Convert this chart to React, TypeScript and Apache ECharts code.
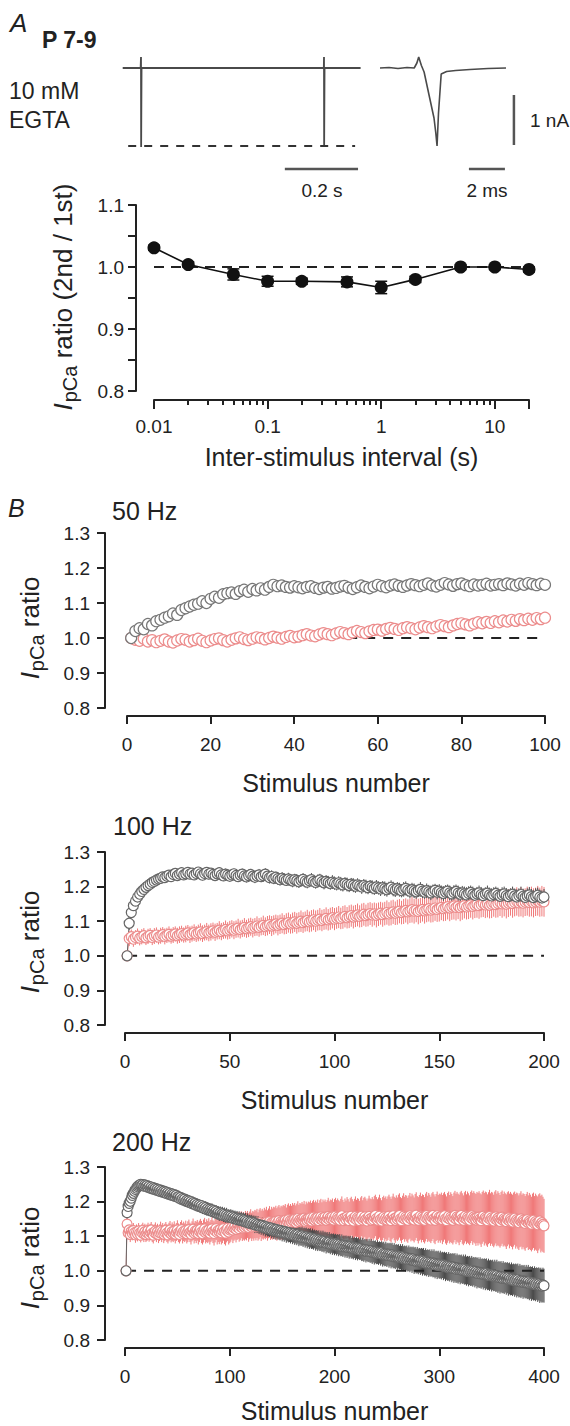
import React, { useEffect, useRef } from "react";
import * as echarts from "echarts";

const FONT = '"Liberation Sans", Arial, Helvetica, sans-serif';
const INK = "#222";

// ---------- Panel A: example traces ----------
// Paired-pulse trace (time in s, current in nA)
const trace1T = [-0.05, -0.001, 0, 0.0004, 0.0015, 0.4995, 0.5, 0.5004, 0.5015, 0.6];
const trace1I = [0, 0, 0.22, -1.58, 0, 0, 0.22, -1.58, 0, 0];
const firstPeakI = -1.56;
// Expanded first response (time in ms, current in nA)
const trace2T = [0, 0.5, 1.0, 1.5, 1.9, 2.05, 2.15, 2.3, 2.45, 2.7, 3.0, 3.1, 3.17, 3.25, 3.4, 3.7, 4.2, 5, 6, 7];
const trace2I = [0, 0.01, -0.01, 0.01, 0, 0.1, 0.22, 0.05, -0.08, -0.5, -1.0, -1.3, -1.56, -0.9, -0.12, -0.07, -0.05, -0.03, -0.01, 0];
const scaleTimeS = 0.2; // s
const scaleTimeMs = 2; // ms
const scaleCurrent = 1; // nA

// ---------- Panel A: paired-pulse ratio ----------
const isiS = [0.01, 0.02, 0.05, 0.1, 0.2, 0.5, 1, 2, 5, 10, 20];
const pprRatio = [1.031, 1.004, 0.988, 0.977, 0.977, 0.976, 0.967, 0.98, 1.0, 1.0, 0.996];
const pprSem = [0.004, 0.004, 0.009, 0.008, 0.005, 0.008, 0.01, 0.005, 0.004, 0.004, 0.004];
const isiMajorTicks = [0.01, 0.1, 1, 10, 20];
const isiLabels = [0.01, 0.1, 1, 10];
const isiMinorTicks = [0.02, 0.03, 0.04, 0.05, 0.06, 0.07, 0.08, 0.09, 0.2, 0.3, 0.4, 0.5, 0.6, 0.7, 0.8, 0.9, 2, 3, 4, 5, 6, 7, 8, 9];

// ---------- Panel B: 50 Hz ----------
const gray50 = [
  1.0, 1.02, 1.028, 1.025, 1.04, 1.036, 1.048, 1.052, 1.058, 1.062,
  1.07, 1.066, 1.08, 1.085, 1.09, 1.095, 1.098, 1.105, 1.1, 1.112,
  1.118, 1.115, 1.125, 1.128, 1.13, 1.126, 1.134, 1.138, 1.132, 1.14,
  1.136, 1.142, 1.138, 1.146, 1.152, 1.148, 1.15, 1.146, 1.144, 1.148,
  1.145, 1.142, 1.146, 1.148, 1.143, 1.14, 1.144, 1.146, 1.141, 1.143,
  1.147, 1.149, 1.144, 1.14, 1.145, 1.15, 1.146, 1.142, 1.147, 1.152,
  1.148, 1.145, 1.15, 1.153, 1.149, 1.146, 1.15, 1.154, 1.151, 1.148,
  1.152, 1.156, 1.15, 1.147, 1.152, 1.157, 1.153, 1.149, 1.154, 1.156,
  1.151, 1.148, 1.153, 1.15, 1.152, 1.155, 1.15, 1.152, 1.154, 1.151,
  1.156, 1.153, 1.15, 1.155, 1.152, 1.157, 1.154, 1.151, 1.155, 1.152,
];
const pink50 = [
  1.0, 0.995, 0.992, 0.998, 0.99, 0.994, 0.988, 0.992, 0.996, 0.99,
  0.987, 0.993, 0.997, 0.995, 0.99, 0.994, 0.998, 0.992, 0.988, 0.993,
  0.997, 0.999, 0.994, 0.99, 0.995, 0.999, 1.002, 0.997, 0.994, 0.998,
  1.002, 1.0, 0.996, 1.0, 1.004, 1.001, 0.998, 1.003, 1.006, 1.002,
  1.004, 1.008, 1.011, 1.007, 1.005, 1.01, 1.014, 1.011, 1.008, 1.013,
  1.017, 1.014, 1.011, 1.016, 1.02, 1.017, 1.014, 1.019, 1.023, 1.024,
  1.021, 1.026, 1.029, 1.026, 1.023, 1.028, 1.031, 1.028, 1.025, 1.03,
  1.034, 1.031, 1.028, 1.033, 1.037, 1.034, 1.031, 1.036, 1.04, 1.042,
  1.039, 1.036, 1.041, 1.045, 1.042, 1.046, 1.043, 1.048, 1.045, 1.05,
  1.047, 1.052, 1.049, 1.054, 1.051, 1.055, 1.052, 1.057, 1.054, 1.058,
];

// ---------- Panel B: 100 Hz ----------
const gray100 = [
  1.0, 1.094, 1.125, 1.145, 1.158, 1.17, 1.178, 1.186, 1.192, 1.198,
  1.203, 1.207, 1.212, 1.215, 1.219, 1.222, 1.224, 1.228, 1.226, 1.23,
  1.233, 1.229, 1.235, 1.238, 1.232, 1.236, 1.24, 1.234, 1.237, 1.241,
  1.236, 1.239, 1.234, 1.238, 1.242, 1.237, 1.233, 1.238, 1.241, 1.236,
  1.239, 1.235, 1.232, 1.237, 1.24, 1.234, 1.231, 1.236, 1.233, 1.23,
  1.234, 1.237, 1.232, 1.229, 1.233, 1.236, 1.231, 1.228, 1.232, 1.235,
  1.23, 1.227, 1.231, 1.234, 1.229, 1.232, 1.236, 1.23, 1.226, 1.229,
  1.224, 1.227, 1.223, 1.22, 1.224, 1.221, 1.218, 1.222, 1.219, 1.216,
  1.22, 1.217, 1.214, 1.218, 1.221, 1.216, 1.213, 1.217, 1.22, 1.215,
  1.212, 1.216, 1.219, 1.214, 1.211, 1.215, 1.212, 1.209, 1.213, 1.21,
  1.207, 1.211, 1.208, 1.205, 1.209, 1.206, 1.203, 1.207, 1.204, 1.201,
  1.205, 1.202, 1.199, 1.203, 1.2, 1.197, 1.201, 1.198, 1.195, 1.199,
  1.196, 1.193, 1.197, 1.194, 1.191, 1.195, 1.198, 1.193, 1.19, 1.194,
  1.191, 1.188, 1.192, 1.195, 1.19, 1.187, 1.191, 1.188, 1.185, 1.189,
  1.192, 1.187, 1.184, 1.188, 1.185, 1.182, 1.186, 1.189, 1.184, 1.187,
  1.183, 1.18, 1.184, 1.187, 1.182, 1.179, 1.183, 1.186, 1.181, 1.178,
  1.182, 1.179, 1.176, 1.18, 1.183, 1.178, 1.175, 1.179, 1.182, 1.177,
  1.174, 1.178, 1.181, 1.176, 1.173, 1.177, 1.18, 1.175, 1.172, 1.176,
  1.179, 1.174, 1.171, 1.175, 1.178, 1.173, 1.17, 1.174, 1.177, 1.172,
  1.169, 1.173, 1.176, 1.171, 1.168, 1.172, 1.175, 1.17, 1.167, 1.17,
];
// SEM x 1000
const gray100Sem = [
  0, 20, 16, 15, 14, 14, 13, 13, 12, 12,
  12, 13, 12, 12, 13, 12, 13, 12, 13, 13,
  13, 12, 13, 14, 13, 12, 14, 13, 14, 13,
  14, 13, 14, 15, 13, 14, 15, 14, 13, 15,
  14, 15, 14, 16, 15, 14, 15, 16, 15, 14,
  16, 15, 16, 15, 17, 16, 15, 16, 17, 16,
  15, 17, 16, 17, 16, 18, 17, 16, 17, 18,
  17, 16, 18, 17, 18, 17, 16, 18, 17, 18,
  17, 19, 18, 17, 18, 19, 18, 17, 19, 18,
  18, 19, 18, 17, 19, 18, 19, 18, 20, 19,
  18, 19, 20, 19, 18, 20, 19, 18, 20, 19,
  19, 18, 20, 19, 20, 19, 18, 20, 19, 20,
  19, 20, 19, 21, 20, 19, 20, 21, 20, 19,
  20, 19, 21, 20, 19, 21, 20, 21, 20, 19,
  21, 20, 19, 21, 20, 21, 20, 19, 21, 20,
  20, 21, 20, 19, 21, 20, 21, 20, 22, 21,
  20, 21, 22, 21, 20, 22, 21, 20, 21, 22,
  21, 20, 22, 21, 22, 21, 20, 22, 21, 22,
  21, 22, 21, 20, 22, 21, 22, 21, 23, 22,
  21, 22, 23, 22, 21, 23, 22, 21, 22, 23,
];
const pink100 = [
  1.0, 1.05, 1.055, 1.048, 1.053, 1.057, 1.051, 1.055, 1.058, 1.052,
  1.056, 1.059, 1.053, 1.057, 1.06, 1.054, 1.058, 1.061, 1.056, 1.059,
  1.062, 1.057, 1.06, 1.063, 1.058, 1.061, 1.064, 1.06, 1.063, 1.066,
  1.061, 1.064, 1.067, 1.063, 1.066, 1.069, 1.064, 1.067, 1.07, 1.066,
  1.069, 1.072, 1.068, 1.071, 1.074, 1.07, 1.073, 1.076, 1.072, 1.075,
  1.078, 1.074, 1.077, 1.08, 1.076, 1.079, 1.082, 1.078, 1.081, 1.084,
  1.08, 1.083, 1.086, 1.082, 1.085, 1.088, 1.084, 1.087, 1.09, 1.086,
  1.089, 1.092, 1.088, 1.091, 1.094, 1.09, 1.093, 1.096, 1.092, 1.095,
  1.098, 1.094, 1.097, 1.1, 1.096, 1.099, 1.102, 1.098, 1.101, 1.104,
  1.1, 1.103, 1.106, 1.102, 1.105, 1.108, 1.104, 1.107, 1.11, 1.106,
  1.109, 1.112, 1.108, 1.111, 1.114, 1.11, 1.113, 1.116, 1.112, 1.115,
  1.118, 1.114, 1.117, 1.12, 1.116, 1.119, 1.122, 1.118, 1.121, 1.117,
  1.12, 1.123, 1.119, 1.122, 1.125, 1.121, 1.124, 1.127, 1.123, 1.126,
  1.129, 1.125, 1.128, 1.131, 1.127, 1.13, 1.133, 1.129, 1.132, 1.128,
  1.131, 1.134, 1.13, 1.133, 1.136, 1.132, 1.135, 1.138, 1.134, 1.137,
  1.14, 1.136, 1.139, 1.142, 1.138, 1.141, 1.144, 1.14, 1.143, 1.139,
  1.142, 1.145, 1.141, 1.144, 1.147, 1.143, 1.146, 1.149, 1.145, 1.148,
  1.151, 1.147, 1.15, 1.146, 1.149, 1.152, 1.148, 1.151, 1.154, 1.15,
  1.153, 1.149, 1.152, 1.155, 1.151, 1.154, 1.157, 1.153, 1.156, 1.152,
  1.155, 1.158, 1.154, 1.157, 1.153, 1.156, 1.159, 1.155, 1.158, 1.156,
];
const pink100Sem = [
  0, 22, 21, 22, 21, 22, 21, 22, 22, 21,
  22, 21, 22, 23, 22, 21, 23, 22, 23, 22,
  23, 22, 23, 22, 23, 24, 23, 22, 24, 23,
  24, 23, 24, 23, 24, 25, 24, 23, 25, 24,
  25, 24, 25, 24, 26, 25, 24, 26, 25, 26,
  25, 26, 25, 27, 26, 25, 27, 26, 27, 26,
  27, 26, 28, 27, 26, 28, 27, 28, 27, 29,
  28, 27, 29, 28, 29, 28, 30, 29, 28, 30,
  29, 30, 29, 31, 30, 29, 31, 30, 31, 30,
  31, 30, 32, 31, 30, 32, 31, 32, 31, 32,
  31, 32, 31, 33, 32, 31, 33, 32, 33, 32,
  33, 32, 34, 33, 32, 34, 33, 34, 33, 35,
  34, 33, 35, 34, 35, 34, 36, 35, 34, 36,
  35, 34, 36, 35, 36, 35, 37, 36, 35, 37,
  36, 35, 37, 36, 37, 36, 38, 37, 36, 38,
  37, 36, 38, 37, 38, 37, 39, 38, 37, 39,
  38, 37, 36, 38, 37, 38, 37, 39, 38, 37,
  39, 38, 39, 38, 40, 39, 38, 40, 39, 40,
  39, 41, 40, 39, 41, 40, 41, 40, 42, 41,
  40, 42, 41, 43, 42, 41, 43, 42, 44, 43,
];

// ---------- Panel B: 200 Hz ----------
const gray200 = [
  1.0, 1.168, 1.186, 1.195, 1.201, 1.21, 1.218, 1.224, 1.23, 1.235,
  1.239, 1.243, 1.246, 1.248, 1.25, 1.247, 1.249, 1.245, 1.248, 1.244,
  1.246, 1.241, 1.244, 1.239, 1.242, 1.237, 1.24, 1.235, 1.238, 1.233,
  1.236, 1.231, 1.234, 1.229, 1.232, 1.227, 1.23, 1.225, 1.228, 1.223,
  1.226, 1.221, 1.224, 1.219, 1.222, 1.217, 1.22, 1.215, 1.218, 1.213,
  1.214, 1.209, 1.212, 1.206, 1.209, 1.204, 1.207, 1.201, 1.204, 1.199,
  1.202, 1.197, 1.2, 1.194, 1.197, 1.192, 1.195, 1.189, 1.192, 1.187,
  1.19, 1.185, 1.188, 1.182, 1.185, 1.18, 1.183, 1.177, 1.18, 1.175,
  1.178, 1.173, 1.176, 1.171, 1.174, 1.169, 1.172, 1.166, 1.169, 1.164,
  1.167, 1.162, 1.165, 1.16, 1.163, 1.158, 1.161, 1.156, 1.159, 1.155,
  1.158, 1.153, 1.156, 1.151, 1.154, 1.149, 1.152, 1.147, 1.15, 1.146,
  1.149, 1.144, 1.147, 1.142, 1.145, 1.14, 1.143, 1.138, 1.141, 1.137,
  1.14, 1.135, 1.138, 1.133, 1.136, 1.131, 1.134, 1.129, 1.132, 1.128,
  1.131, 1.126, 1.129, 1.124, 1.127, 1.122, 1.125, 1.121, 1.124, 1.119,
  1.122, 1.117, 1.12, 1.116, 1.119, 1.114, 1.117, 1.113, 1.116, 1.111,
  1.114, 1.11, 1.113, 1.108, 1.111, 1.107, 1.11, 1.105, 1.108, 1.104,
  1.107, 1.102, 1.105, 1.101, 1.104, 1.099, 1.102, 1.098, 1.101, 1.096,
  1.099, 1.095, 1.098, 1.093, 1.096, 1.092, 1.095, 1.09, 1.093, 1.089,
  1.092, 1.087, 1.09, 1.086, 1.089, 1.084, 1.087, 1.083, 1.086, 1.082,
  1.085, 1.08, 1.083, 1.079, 1.082, 1.077, 1.08, 1.076, 1.079, 1.075,
  1.078, 1.074, 1.077, 1.073, 1.076, 1.071, 1.074, 1.07, 1.073, 1.069,
  1.072, 1.068, 1.071, 1.067, 1.07, 1.065, 1.068, 1.064, 1.067, 1.063,
  1.066, 1.062, 1.065, 1.061, 1.064, 1.059, 1.062, 1.058, 1.061, 1.057,
  1.06, 1.056, 1.059, 1.055, 1.058, 1.053, 1.056, 1.052, 1.055, 1.051,
  1.054, 1.05, 1.053, 1.049, 1.052, 1.047, 1.05, 1.046, 1.049, 1.045,
  1.048, 1.044, 1.047, 1.043, 1.046, 1.041, 1.044, 1.04, 1.043, 1.039,
  1.042, 1.038, 1.041, 1.037, 1.04, 1.035, 1.038, 1.034, 1.037, 1.033,
  1.036, 1.032, 1.035, 1.031, 1.034, 1.029, 1.032, 1.028, 1.031, 1.027,
  1.03, 1.026, 1.029, 1.025, 1.028, 1.023, 1.026, 1.022, 1.025, 1.021,
  1.024, 1.02, 1.023, 1.019, 1.022, 1.017, 1.02, 1.016, 1.019, 1.015,
  1.018, 1.014, 1.017, 1.013, 1.016, 1.011, 1.014, 1.01, 1.013, 1.009,
  1.012, 1.008, 1.011, 1.007, 1.01, 1.005, 1.008, 1.004, 1.007, 1.003,
  1.006, 1.002, 1.005, 1.001, 1.004, 0.999, 1.002, 0.998, 1.001, 0.997,
  1.0, 0.996, 0.999, 0.995, 0.998, 0.993, 0.996, 0.992, 0.995, 0.991,
  0.994, 0.99, 0.993, 0.989, 0.992, 0.987, 0.99, 0.986, 0.989, 0.985,
  0.988, 0.984, 0.987, 0.983, 0.986, 0.981, 0.984, 0.98, 0.983, 0.979,
  0.982, 0.978, 0.981, 0.977, 0.98, 0.975, 0.978, 0.974, 0.977, 0.973,
  0.976, 0.972, 0.975, 0.971, 0.974, 0.969, 0.972, 0.968, 0.971, 0.967,
  0.97, 0.966, 0.969, 0.965, 0.968, 0.963, 0.966, 0.962, 0.965, 0.961,
  0.964, 0.96, 0.963, 0.959, 0.962, 0.957, 0.96, 0.956, 0.959, 0.957,
];
const gray200Sem = [
  0, 15, 14, 13, 13, 12, 13, 12, 12, 13,
  12, 13, 12, 12, 13, 12, 13, 12, 13, 12,
  13, 12, 13, 14, 12, 13, 14, 13, 12, 14,
  13, 14, 13, 12, 14, 13, 14, 13, 14, 13,
  14, 13, 15, 14, 13, 15, 14, 13, 15, 14,
  15, 14, 15, 14, 16, 15, 14, 16, 15, 14,
  16, 15, 16, 15, 17, 16, 15, 17, 16, 17,
  16, 17, 16, 18, 17, 16, 18, 17, 18, 17,
  18, 17, 19, 18, 17, 19, 18, 19, 18, 20,
  19, 18, 20, 19, 20, 19, 21, 20, 19, 21,
  20, 21, 20, 21, 20, 22, 21, 20, 22, 21,
  21, 22, 21, 23, 22, 21, 23, 22, 21, 23,
  22, 23, 22, 24, 23, 22, 24, 23, 22, 24,
  23, 24, 23, 25, 24, 23, 25, 24, 23, 25,
  24, 25, 24, 26, 25, 24, 26, 25, 24, 26,
  25, 26, 25, 27, 26, 25, 27, 26, 25, 27,
  26, 27, 26, 27, 26, 28, 27, 26, 28, 27,
  26, 28, 27, 28, 27, 29, 28, 27, 29, 28,
  27, 29, 28, 29, 28, 27, 29, 28, 30, 29,
  28, 30, 29, 28, 30, 29, 28, 30, 29, 30,
  29, 30, 29, 31, 30, 29, 31, 30, 29, 31,
  30, 31, 30, 32, 31, 30, 32, 31, 30, 32,
  31, 32, 31, 30, 32, 31, 33, 32, 31, 33,
  32, 31, 33, 32, 34, 33, 32, 34, 33, 32,
  34, 33, 32, 34, 33, 35, 34, 33, 35, 34,
  33, 35, 34, 36, 35, 34, 36, 35, 34, 36,
  35, 34, 36, 35, 37, 36, 35, 37, 36, 35,
  37, 36, 35, 37, 36, 38, 37, 36, 38, 37,
  36, 38, 37, 39, 38, 37, 39, 38, 37, 39,
  38, 37, 39, 38, 40, 39, 38, 40, 39, 38,
  40, 39, 38, 40, 39, 41, 40, 39, 41, 40,
  39, 41, 40, 42, 41, 40, 42, 41, 40, 42,
  41, 40, 42, 41, 43, 42, 41, 43, 42, 41,
  43, 42, 41, 43, 42, 44, 43, 42, 44, 43,
  42, 44, 43, 45, 44, 43, 45, 44, 43, 45,
  44, 43, 45, 44, 46, 45, 44, 46, 45, 44,
  46, 45, 44, 46, 45, 47, 46, 45, 47, 46,
  45, 47, 46, 48, 47, 46, 48, 47, 46, 48,
  47, 46, 48, 47, 49, 48, 47, 49, 48, 47,
  49, 48, 47, 49, 48, 50, 49, 48, 50, 49,
];
const pink200 = [
  1.0, 1.135, 1.11, 1.118, 1.105, 1.114, 1.108, 1.116, 1.11, 1.104,
  1.112, 1.106, 1.115, 1.109, 1.103, 1.111, 1.117, 1.107, 1.113, 1.105,
  1.11, 1.116, 1.106, 1.112, 1.118, 1.108, 1.103, 1.111, 1.115, 1.107,
  1.113, 1.105, 1.11, 1.116, 1.108, 1.114, 1.106, 1.111, 1.117, 1.109,
  1.104, 1.112, 1.118, 1.107, 1.113, 1.109, 1.115, 1.106, 1.112, 1.118,
  1.11, 1.105, 1.113, 1.119, 1.108, 1.114, 1.11, 1.116, 1.107, 1.113,
  1.119, 1.111, 1.106, 1.114, 1.12, 1.109, 1.115, 1.111, 1.117, 1.108,
  1.114, 1.12, 1.112, 1.107, 1.115, 1.121, 1.11, 1.116, 1.112, 1.118,
  1.109, 1.115, 1.121, 1.113, 1.108, 1.116, 1.122, 1.111, 1.117, 1.113,
  1.119, 1.11, 1.116, 1.122, 1.114, 1.109, 1.117, 1.123, 1.112, 1.118,
  1.121, 1.126, 1.118, 1.124, 1.129, 1.12, 1.126, 1.131, 1.122, 1.128,
  1.133, 1.124, 1.13, 1.126, 1.132, 1.128, 1.134, 1.125, 1.131, 1.136,
  1.127, 1.133, 1.129, 1.135, 1.131, 1.137, 1.128, 1.134, 1.139, 1.13,
  1.136, 1.132, 1.138, 1.134, 1.14, 1.131, 1.137, 1.142, 1.133, 1.139,
  1.135, 1.141, 1.137, 1.143, 1.134, 1.14, 1.145, 1.136, 1.142, 1.138,
  1.144, 1.14, 1.146, 1.137, 1.143, 1.148, 1.139, 1.145, 1.141, 1.147,
  1.143, 1.149, 1.14, 1.146, 1.151, 1.142, 1.148, 1.144, 1.15, 1.146,
  1.152, 1.143, 1.149, 1.145, 1.151, 1.147, 1.153, 1.144, 1.15, 1.155,
  1.146, 1.152, 1.148, 1.154, 1.145, 1.151, 1.156, 1.147, 1.153, 1.149,
  1.155, 1.146, 1.152, 1.157, 1.148, 1.154, 1.15, 1.156, 1.147, 1.153,
  1.158, 1.149, 1.155, 1.151, 1.146, 1.154, 1.159, 1.15, 1.145, 1.153,
  1.148, 1.156, 1.151, 1.145, 1.153, 1.158, 1.149, 1.144, 1.152, 1.157,
  1.148, 1.154, 1.15, 1.145, 1.153, 1.158, 1.147, 1.152, 1.156, 1.149,
  1.144, 1.151, 1.157, 1.15, 1.146, 1.153, 1.148, 1.155, 1.16, 1.151,
  1.146, 1.152, 1.158, 1.149, 1.144, 1.151, 1.156, 1.148, 1.153, 1.147,
  1.152, 1.158, 1.15, 1.145, 1.153, 1.159, 1.151, 1.146, 1.154, 1.149,
  1.155, 1.16, 1.15, 1.145, 1.153, 1.158, 1.149, 1.155, 1.151, 1.146,
  1.154, 1.159, 1.15, 1.156, 1.152, 1.147, 1.155, 1.161, 1.151, 1.146,
  1.153, 1.158, 1.149, 1.155, 1.151, 1.146, 1.154, 1.16, 1.15, 1.156,
  1.152, 1.147, 1.155, 1.16, 1.151, 1.146, 1.154, 1.159, 1.15, 1.155,
  1.151, 1.157, 1.148, 1.154, 1.159, 1.15, 1.145, 1.153, 1.158, 1.149,
  1.155, 1.151, 1.146, 1.154, 1.16, 1.15, 1.156, 1.152, 1.147, 1.155,
  1.16, 1.151, 1.146, 1.153, 1.158, 1.149, 1.155, 1.151, 1.146, 1.154,
  1.159, 1.15, 1.156, 1.152, 1.147, 1.154, 1.149, 1.155, 1.15, 1.145,
  1.153, 1.158, 1.149, 1.154, 1.15, 1.145, 1.152, 1.157, 1.148, 1.153,
  1.149, 1.144, 1.151, 1.156, 1.147, 1.152, 1.148, 1.143, 1.15, 1.155,
  1.146, 1.151, 1.147, 1.142, 1.149, 1.153, 1.144, 1.15, 1.146, 1.141,
  1.148, 1.152, 1.143, 1.148, 1.144, 1.139, 1.146, 1.15, 1.141, 1.146,
  1.142, 1.137, 1.144, 1.148, 1.139, 1.144, 1.14, 1.135, 1.142, 1.146,
  1.137, 1.142, 1.138, 1.133, 1.14, 1.144, 1.135, 1.139, 1.134, 1.13,
];
const pink200Sem = [
  0, 22, 21, 20, 22, 21, 20, 22, 21, 23,
  22, 21, 23, 22, 21, 23, 22, 24, 23, 22,
  24, 23, 22, 24, 23, 25, 24, 23, 25, 24,
  23, 25, 24, 26, 25, 24, 26, 25, 24, 26,
  25, 27, 26, 25, 27, 26, 28, 27, 26, 28,
  27, 26, 28, 27, 29, 28, 27, 29, 28, 30,
  29, 28, 30, 29, 31, 30, 29, 31, 30, 32,
  31, 30, 32, 31, 33, 32, 31, 33, 32, 34,
  33, 32, 34, 33, 35, 34, 33, 35, 34, 36,
  35, 34, 36, 35, 37, 36, 35, 37, 36, 38,
  37, 36, 38, 37, 39, 38, 37, 39, 38, 40,
  39, 38, 40, 39, 41, 40, 39, 41, 40, 42,
  41, 40, 42, 41, 43, 42, 41, 43, 42, 44,
  43, 42, 44, 43, 45, 44, 43, 45, 44, 46,
  45, 44, 46, 45, 47, 46, 45, 47, 46, 48,
  46, 48, 47, 46, 48, 47, 49, 48, 47, 49,
  48, 47, 49, 48, 50, 49, 48, 50, 49, 48,
  50, 49, 51, 50, 49, 51, 50, 52, 51, 50,
  52, 51, 50, 52, 51, 53, 52, 51, 53, 52,
  51, 53, 52, 54, 53, 52, 54, 53, 52, 54,
  53, 55, 54, 53, 55, 54, 56, 55, 54, 56,
  55, 57, 56, 55, 57, 56, 58, 57, 56, 58,
  57, 56, 58, 57, 59, 58, 57, 59, 58, 60,
  59, 58, 60, 59, 61, 60, 59, 61, 60, 62,
  61, 60, 62, 61, 60, 62, 61, 63, 62, 61,
  63, 62, 64, 63, 62, 64, 63, 65, 64, 63,
  65, 64, 63, 65, 64, 66, 65, 64, 66, 65,
  64, 66, 65, 67, 66, 65, 67, 66, 65, 67,
  66, 68, 67, 66, 68, 67, 69, 68, 67, 69,
  68, 67, 69, 68, 70, 69, 68, 70, 69, 68,
  70, 69, 71, 70, 69, 71, 70, 72, 71, 70,
  72, 71, 70, 72, 71, 73, 72, 71, 73, 72,
  71, 73, 72, 74, 73, 72, 74, 73, 72, 74,
  73, 75, 74, 73, 75, 74, 76, 75, 74, 76,
  75, 74, 76, 75, 77, 76, 75, 77, 76, 75,
  77, 76, 78, 77, 76, 78, 77, 76, 78, 77,
  76, 78, 77, 79, 78, 77, 79, 78, 77, 79,
  78, 77, 79, 78, 80, 79, 78, 80, 79, 78,
  80, 79, 78, 80, 79, 81, 80, 79, 81, 80,
  79, 81, 80, 82, 81, 80, 82, 81, 80, 78,
];

const yTicksB = [0.8, 0.9, 1.0, 1.1, 1.2, 1.3];

// ---------- helpers ----------
const GRAY_EDGE = "#666";
const GRAY_ERR = "#4a4a4a";
const PINK_EDGE = "#ec8c8c";
const PINK_ERR = "#f07878";

const stim = (n: number) => Array.from({ length: n }, (_, i) => i + 1);
const pairs = (xs: number[], ys: number[]) => xs.map((x, i) => [x, ys[i]]);

function errSeries(xi: number, yi: number, xs: number[], ys: number[], es: number[], color: string, width: number, cap: number) {
  return {
    type: "custom",
    xAxisIndex: xi,
    yAxisIndex: yi,
    silent: true,
    clip: false,
    data: xs.map((x, i) => [x, ys[i], es[i]]),
    encode: { x: 0, y: 1 },
    renderItem: (_p: any, api: any) => {
      const x = api.value(0);
      const y = api.value(1);
      const e = api.value(2);
      const a = api.coord([x, y + e]);
      const b = api.coord([x, y - e]);
      const children: any[] = [
        { type: "line", shape: { x1: a[0], y1: a[1], x2: b[0], y2: b[1] }, style: { stroke: color, lineWidth: width } },
      ];
      if (cap > 0) {
        children.push({ type: "line", shape: { x1: a[0] - cap, y1: a[1], x2: a[0] + cap, y2: a[1] }, style: { stroke: color, lineWidth: width } });
        children.push({ type: "line", shape: { x1: b[0] - cap, y1: b[1], x2: b[0] + cap, y2: b[1] }, style: { stroke: color, lineWidth: width } });
      }
      return { type: "group", children };
    },
  };
}

function chain(xi: number, yi: number, ys: number[], edge: string, size: number) {
  return {
    type: "line",
    xAxisIndex: xi,
    yAxisIndex: yi,
    data: pairs(stim(ys.length), ys),
    symbol: "circle",
    symbolSize: size,
    showSymbol: true,
    showAllSymbol: true,
    silent: true,
    clip: false,
    lineStyle: { color: edge, width: 1 },
    itemStyle: { color: "#fff", borderColor: edge, borderWidth: 1.2 },
    emphasis: { disabled: true },
  };
}

function refLine(xi: number, yi: number, x0: number, x1: number, y: number, dash: number[]) {
  return {
    type: "line",
    xAxisIndex: xi,
    yAxisIndex: yi,
    data: [[x0, y], [x1, y]],
    symbol: "none",
    silent: true,
    clip: false,
    lineStyle: { color: INK, width: 2, type: dash },
  };
}

function segLine(xi: number, yi: number, pts: number[][], color: string, width: number) {
  return {
    type: "line",
    xAxisIndex: xi,
    yAxisIndex: yi,
    data: pts,
    symbol: "none",
    silent: true,
    clip: false,
    lineStyle: { color, width },
  };
}

const axisLine = { show: true, onZero: false, lineStyle: { color: INK, width: 2 } };
const tickStyle = { color: INK, width: 2 };
const labelStyle = { fontSize: 19, fontFamily: FONT, color: INK };

function bX(gi: number, max: number, interval: number, offset: number, gap: number) {
  return {
    type: "value",
    gridIndex: gi,
    min: 0,
    max,
    interval,
    position: "bottom",
    offset,
    axisLine,
    axisTick: { show: true, length: 8, lineStyle: tickStyle },
    axisLabel: { show: true, margin: 19, ...labelStyle },
    splitLine: { show: false },
    name: "Stimulus number",
    nameLocation: "middle",
    nameGap: gap,
    nameTextStyle: { fontSize: 25, fontFamily: FONT, color: INK },
  };
}
function bY(gi: number, offset: number) {
  return {
    type: "value",
    gridIndex: gi,
    min: yTicksB[0],
    max: yTicksB[yTicksB.length - 1],
    interval: 0.1,
    position: "left",
    offset,
    axisLine,
    axisTick: { show: true, length: 8, lineStyle: tickStyle },
    axisLabel: { show: true, margin: 15, ...labelStyle, formatter: (v: number) => v.toFixed(1) },
    splitLine: { show: false },
  };
}

function text(x: number, y: number, t: string, size: number, extra: any = {}) {
  return {
    type: "text",
    x,
    y,
    silent: true,
    style: {
      text: t,
      fontSize: size,
      fontFamily: FONT,
      fill: INK,
      align: "left",
      verticalAlign: "middle",
      textAlign: "left",
      textVerticalAlign: "middle",
      ...extra,
    },
  };
}

function yTitle(x: number, y: number, rest: string) {
  return {
    type: "text",
    x,
    y,
    rotation: Math.PI / 2,
    silent: true,
    style: {
      text: `{i|I}{s|pCa}{n|${rest}}`,
      fontSize: 26,
      fontFamily: FONT,
      fill: INK,
      align: "center",
      verticalAlign: "middle",
      textAlign: "center",
      textVerticalAlign: "middle",
      rich: {
        i: { fontSize: 26, fontStyle: "italic", fontFamily: FONT, fill: INK, color: INK },
        s: { fontSize: 20, fontFamily: FONT, fill: INK, color: INK, padding: [14, 0, 0, 1] },
        n: { fontSize: 26, fontFamily: FONT, fill: INK, color: INK },
      },
    },
  };
}

export default function App() {
  const ref = useRef<HTMLDivElement>(null);
  useEffect(() => {
    document.body.style.margin = "0";
    if (!ref.current) return;
    const chart = echarts.init(ref.current, undefined, { renderer: "svg" });

    // scale bars (placed in data units of each trace grid)
    const bar1 = [[0.393, -2.02], [0.393 + scaleTimeS, -2.02]];
    const bar2 = [[4.94, -2.02], [4.94 + scaleTimeMs, -2.02]];
    const bar3 = [[7.44, -0.54], [7.44, -0.54 - scaleCurrent]];

    const option: any = {
      animation: false,
      backgroundColor: "#fff",
      textStyle: { fontFamily: FONT },
      grid: [
        { left: 122.7, top: 53, width: 237.9, height: 125, outerBoundsMode: "none" },
        { left: 380, top: 53, width: 135, height: 125, outerBoundsMode: "none" },
        { left: 154, top: 205, width: 375, height: 186, outerBoundsMode: "none" },
        { left: 127, top: 533, width: 418, height: 175, outerBoundsMode: "none" },
        { left: 125, top: 852, width: 419, height: 173, outerBoundsMode: "none" },
        { left: 125, top: 1167, width: 419, height: 173, outerBoundsMode: "none" },
      ],
      xAxis: [
        { type: "value", gridIndex: 0, min: -0.05, max: 0.6, show: false },
        { type: "value", gridIndex: 1, min: 0, max: 7.5, show: false },
        {
          type: "log",
          logBase: 10,
          gridIndex: 2,
          min: 0.01,
          max: 20,
          position: "bottom",
          offset: 9,
          axisLine,
          axisTick: { show: true, length: 9, lineStyle: tickStyle, customValues: isiMajorTicks },
          axisLabel: {
            show: true,
            margin: 17,
            ...labelStyle,
            customValues: isiLabels,
            formatter: (v: number) => (v < 1 ? String(+v.toPrecision(2)) : String(Math.round(v))),
          },
          splitLine: { show: false },
          minorTick: { show: false },
          name: "Inter-stimulus interval (s)",
          nameLocation: "middle",
          nameGap: 44,
          nameTextStyle: { fontSize: 25, fontFamily: FONT, color: INK },
        },
        {
          type: "log",
          logBase: 10,
          gridIndex: 2,
          min: 0.01,
          max: 20,
          position: "bottom",
          offset: 9,
          axisLine: { show: false },
          axisTick: { show: true, length: 5, lineStyle: tickStyle, customValues: isiMinorTicks },
          axisLabel: { show: false },
          splitLine: { show: false },
        },
        bX(3, 100, 20, 8, 54),
        bX(4, 200, 50, 8, 54),
        bX(5, 400, 100, 8, 50),
      ],
      yAxis: [
        { type: "value", gridIndex: 0, min: -2.2, max: 0.3, show: false },
        { type: "value", gridIndex: 1, min: -2.2, max: 0.3, show: false },
        {
          type: "value",
          gridIndex: 2,
          min: 0.8,
          max: 1.1,
          interval: 0.05,
          position: "left",
          offset: 18,
          axisLine,
          axisTick: { show: true, length: 8, lineStyle: tickStyle },
          axisLabel: {
            show: true,
            margin: 12,
            ...labelStyle,
            formatter: (v: number) => (Math.abs(v * 10 - Math.round(v * 10)) < 1e-6 ? v.toFixed(1) : ""),
          },
          splitLine: { show: false },
        },
        bY(3, 22),
        bY(4, 20),
        bY(5, 20),
      ],
      series: [
        // traces
        segLine(0, 0, pairs(trace1T, trace1I), "#4a4a4a", 1.8),
        { ...refLine(0, 0, -0.035, 0.585, firstPeakI, [8, 8]), lineStyle: { color: "#333", width: 2, type: [8, 8] } },
        segLine(1, 1, pairs(trace2T, trace2I), "#4a4a4a", 1.6),
        segLine(0, 0, bar1, "#555", 2.5),
        segLine(1, 1, bar2, "#555", 2.5),
        segLine(1, 1, bar3, "#555", 2.5),
        // panel A
        refLine(2, 2, 0.01, 20, 1.0, [10, 7]),
        errSeries(2, 2, isiS, pprRatio, pprSem, "#111", 1.5, 6),
        {
          type: "line",
          xAxisIndex: 2,
          yAxisIndex: 2,
          data: pairs(isiS, pprRatio),
          symbol: "circle",
          symbolSize: 13,
          silent: true,
          lineStyle: { color: "#111", width: 1.6 },
          itemStyle: { color: "#111" },
          emphasis: { disabled: true },
        },
        // 50 Hz
        refLine(4, 3, 1, 100, 1.0, [10, 8]),
        chain(4, 3, pink50, PINK_EDGE, 11),
        chain(4, 3, gray50, "#777", 11),
        // 100 Hz
        refLine(5, 4, 1, 200, 1.0, [10, 8]),
        errSeries(5, 4, stim(pink100.length), pink100, pink100Sem.map((v) => v / 1000), PINK_ERR, 1, 0),
        chain(5, 4, pink100, PINK_EDGE, 10),
        errSeries(5, 4, stim(gray100.length), gray100, gray100Sem.map((v) => v / 1000), GRAY_ERR, 1, 0),
        chain(5, 4, gray100, GRAY_EDGE, 10),
        // 200 Hz
        refLine(6, 5, 1, 400, 1.0, [10, 8]),
        errSeries(6, 5, stim(pink200.length), pink200, pink200Sem.map((v) => v / 1000), PINK_ERR, 1, 0),
        chain(6, 5, pink200, PINK_EDGE, 10),
        errSeries(6, 5, stim(gray200.length), gray200, gray200Sem.map((v) => v / 1000), GRAY_ERR, 1, 0),
        chain(6, 5, gray200, GRAY_EDGE, 10),
      ],
      graphic: [
        text(10, 23, "A", 26, { fontStyle: "italic" }),
        text(42, 40, "P 7-9", 23, { fontWeight: "bold" }),
        text(9, 91, "10 mM", 23),
        text(9, 120, "EGTA", 23),
        text(322, 190, "0.2 s", 19, { align: "center", textAlign: "center" }),
        text(487, 190, "2 ms", 19, { align: "center", textAlign: "center" }),
        text(530, 120, "1 nA", 19),
        yTitle(63, 297, " ratio (2nd / 1st)"),
        text(8, 508, "B", 25, { fontStyle: "italic" }),
        text(112, 511, "50 Hz", 25),
        text(113, 826, "100 Hz", 25),
        text(112, 1142, "200 Hz", 25),
        yTitle(30, 628, " ratio"),
        yTitle(30, 942, " ratio"),
        yTitle(30, 1258, " ratio"),
      ],
    };
    chart.setOption(option);
    return () => chart.dispose();
  }, []);
  return <div ref={ref} style={{ position: "absolute", left: 0, top: 0, width: 570, height: 1426 }} />;
}
